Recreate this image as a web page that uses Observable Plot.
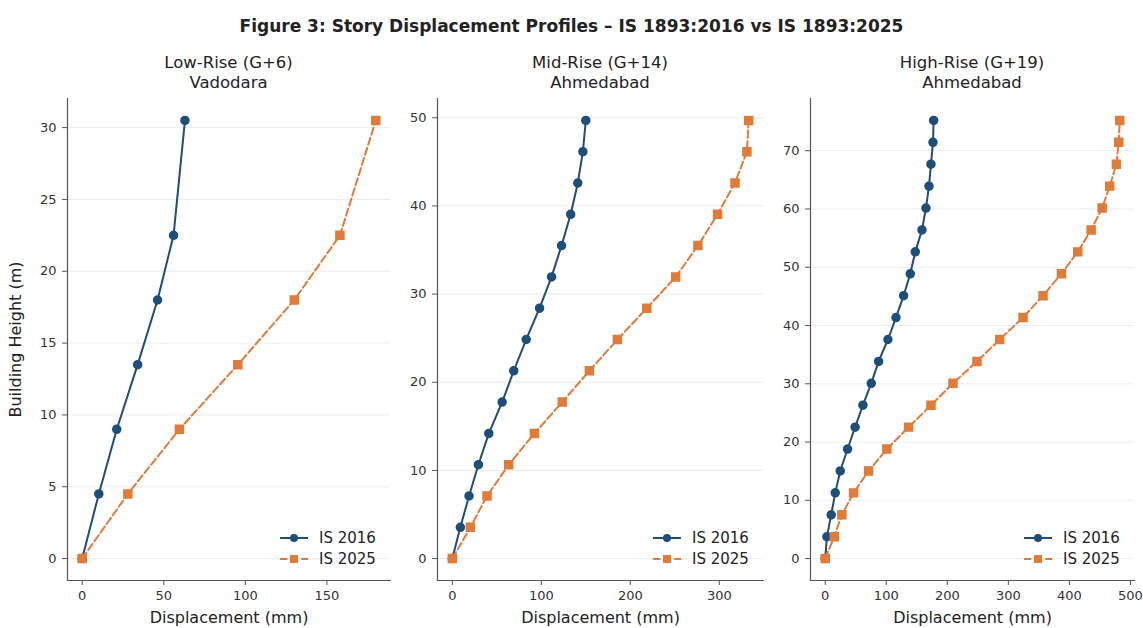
<!DOCTYPE html>
<html>
<head>
<meta charset="utf-8">
<script src="https://cdn.jsdelivr.net/npm/d3@7"></script>
<script src="https://cdn.jsdelivr.net/npm/@observablehq/plot@0.6"></script>
<style>
  html, body { margin: 0; padding: 0; background: #fff; }
  #root { position: relative; width: 1143px; height: 628px; overflow: hidden; font-family: "DejaVu Sans", sans-serif; color: #222; }
  .title { position: absolute; left: 0; width: 1143px; top: 15px; text-align: center; font-weight: bold; font-size: 17px; line-height: 22px; }
  .sub { position: absolute; text-align: center; font-size: 16.5px; line-height: 20px; color: #222; }
  .panel { position: absolute; top: 95px; }
  .panel g[aria-label="x-axis label"] text, .panel g[aria-label="y-axis label"] text { font-size: 16px; fill: #222; }
  .legend { position: absolute; font-size: 15px; color: #222; }
  .legend .row { display: flex; align-items: center; height: 21px; }
  .legend svg { margin-right: 10px; }
</style>
</head>
<body>
<div id="root">
  <div class="title">Figure 3: Story Displacement Profiles – IS 1893:2016 vs IS 1893:2025</div>
</div>
<script>
// ---- Data ----
const panelTitles = ["Low-Rise (G+6)", "Mid-Rise (G+14)", "High-Rise (G+19)"];
const panelCities = ["Vadodara", "Ahmedabad", "Ahmedabad"];
const seriesNames = ["IS 2016", "IS 2025"];

const heightsLow = [0, 4.5, 9, 13.5, 18, 22.5, 30.5];
const dispLow2016 = [0, 10.2, 21.2, 34, 46.2, 56, 63];
const dispLow2025 = [0, 28, 59.6, 95.4, 130, 158, 180];

const heightsMid = [0, 3.55, 7.1, 10.65, 14.2, 17.75, 21.3, 24.85, 28.4, 31.95, 35.5, 39.05, 42.6, 46.15, 49.7];
const dispMid2016 = [0, 9, 18.8, 29.3, 41, 56, 69, 83, 98, 111.5, 122.7, 133, 141, 146.7, 150];
const dispMid2025 = [0, 20.3, 39, 63.4, 92.3, 123.5, 154, 185.5, 218.5, 251, 276, 298, 317.6, 331, 333];

const heightsHigh = [0, 3.76, 7.52, 11.28, 15.04, 18.8, 22.56, 26.32, 30.08, 33.84, 37.6, 41.36, 45.12, 48.88, 52.64, 56.4, 60.16, 63.92, 67.68, 71.44, 75.2];
const dispHigh2016 = [0, 2.8, 9.8, 16.4, 24.6, 36.6, 49, 61.7, 75.4, 87.4, 102.7, 115.9, 128.4, 139.3, 147.5, 158.5, 165, 170, 173.2, 176.5, 177.6];
const dispHigh2025 = [0, 14.8, 27.3, 46.4, 71, 101, 136.6, 173.2, 209.3, 248.6, 285.8, 324, 356.8, 386.9, 413.7, 435.6, 453.6, 466, 477, 480.8, 482.5];

const xTicksLow = [0, 50, 100, 150];
const yTicksLow = [0, 5, 10, 15, 20, 25, 30];
const xTicksMid = [0, 100, 200, 300];
const yTicksMid = [0, 10, 20, 30, 40, 50];
const xTicksHigh = [0, 100, 200, 300, 400, 500];
const yTicksHigh = [0, 10, 20, 30, 40, 50, 60, 70];

const colorA = "#1f4e79";
const colorB = "#e07b39";
const dashB = "7.4,3.2";

// ---- Layout ----
const layout = [
  {left: 0,   width: 395, ml: 67, mr: 5, heights: heightsLow,  a: dispLow2016,  b: dispLow2025,  xt: xTicksLow,  yt: yTicksLow,  ylabel: "Building Height (m)"},
  {left: 395, width: 373, ml: 42, mr: 5, heights: heightsMid,  a: dispMid2016,  b: dispMid2025,  xt: xTicksMid,  yt: yTicksMid,  ylabel: null},
  {left: 768, width: 375, ml: 42, mr: 9, heights: heightsHigh, a: dispHigh2016, b: dispHigh2025, xt: xTicksHigh, yt: yTicksHigh, ylabel: null}
];

const root = document.getElementById("root");
const H = 533, MT = 3, MB = 48;

function pad(lo, hi) { const p = (hi - lo) * 0.05; return [lo - p, hi + p]; }

layout.forEach((p, i) => {
  const rows = [];
  p.heights.forEach((h, k) => {
    rows.push({series: seriesNames[0], h, d: p.a[k]});
  });
  p.heights.forEach((h, k) => {
    rows.push({series: seriesNames[1], h, d: p.b[k]});
  });
  const rowsA = rows.filter(r => r.series === seriesNames[0]);
  const rowsB = rows.filter(r => r.series === seriesNames[1]);
  const xAll = rows.map(r => r.d);
  const yAll = rows.map(r => r.h);

  const chart = Plot.plot({
    width: p.width,
    height: H,
    marginLeft: p.ml,
    marginRight: p.mr,
    marginTop: MT,
    marginBottom: MB,
    style: {fontFamily: "DejaVu Sans, sans-serif", fontSize: "13px", color: "#333", background: "transparent"},
    x: {domain: pad(d3.min(xAll), d3.max(xAll))},
    y: {domain: pad(d3.min(yAll), d3.max(yAll))},
    marks: [
      Plot.gridY(p.yt, {stroke: "#d8d8d8", strokeOpacity: 0.6, strokeWidth: 0.8}),
      Plot.frame({anchor: "left", stroke: "#555", strokeWidth: 1.2}),
      Plot.frame({anchor: "bottom", stroke: "#555", strokeWidth: 1.2}),
      Plot.axisX({ticks: p.xt, tickSize: 5, tickPadding: 5, stroke: "#555", label: "Displacement (mm)", labelAnchor: "center", labelArrow: "none", labelOffset: 42}),
      Plot.axisY({ticks: p.yt, tickSize: 5, tickPadding: 6, stroke: "#555", label: p.ylabel, labelAnchor: "center", labelArrow: "none", labelOffset: 58}),
      Plot.line(rowsA, {x: "d", y: "h", stroke: colorA, strokeWidth: 2, curve: "linear"}),
      Plot.dot(rowsA, {x: "d", y: "h", fill: colorA, stroke: colorA, r: 4, symbol: "circle"}),
      Plot.line(rowsB, {x: "d", y: "h", stroke: colorB, strokeWidth: 2, strokeDasharray: dashB, curve: "linear"}),
      Plot.dot(rowsB, {x: "d", y: "h", fill: colorB, stroke: colorB, r: 4.5, symbol: "square"})
    ]
  });
  const wrap = document.createElement("div");
  wrap.className = "panel";
  wrap.style.left = p.left + "px";
  wrap.appendChild(chart);
  root.appendChild(wrap);

  // subtitle
  const frameL = p.left + p.ml, frameR = p.left + p.width - p.mr;
  const sub = document.createElement("div");
  sub.className = "sub";
  sub.style.left = frameL + "px";
  sub.style.width = (frameR - frameL) + "px";
  sub.style.top = "53px";
  sub.innerHTML = panelTitles[i] + "<br>" + panelCities[i];
  root.appendChild(sub);

  // legend
  const leg = document.createElement("div");
  leg.className = "legend";
  leg.style.left = (frameR - 111) + "px";
  leg.style.top = "527px";
  leg.innerHTML =
    `<div class="row"><svg width="30" height="12"><line x1="1" y1="6" x2="29" y2="6" stroke="${colorA}" stroke-width="2"/><circle cx="15" cy="6" r="4" fill="${colorA}"/></svg>${seriesNames[0]}</div>` +
    `<div class="row"><svg width="30" height="12"><line x1="1" y1="6" x2="29" y2="6" stroke="${colorB}" stroke-width="2" stroke-dasharray="${dashB}"/><rect x="11" y="2" width="8" height="8" fill="${colorB}"/></svg>${seriesNames[1]}</div>`;
  root.appendChild(leg);
});
</script>
</body>
</html>
